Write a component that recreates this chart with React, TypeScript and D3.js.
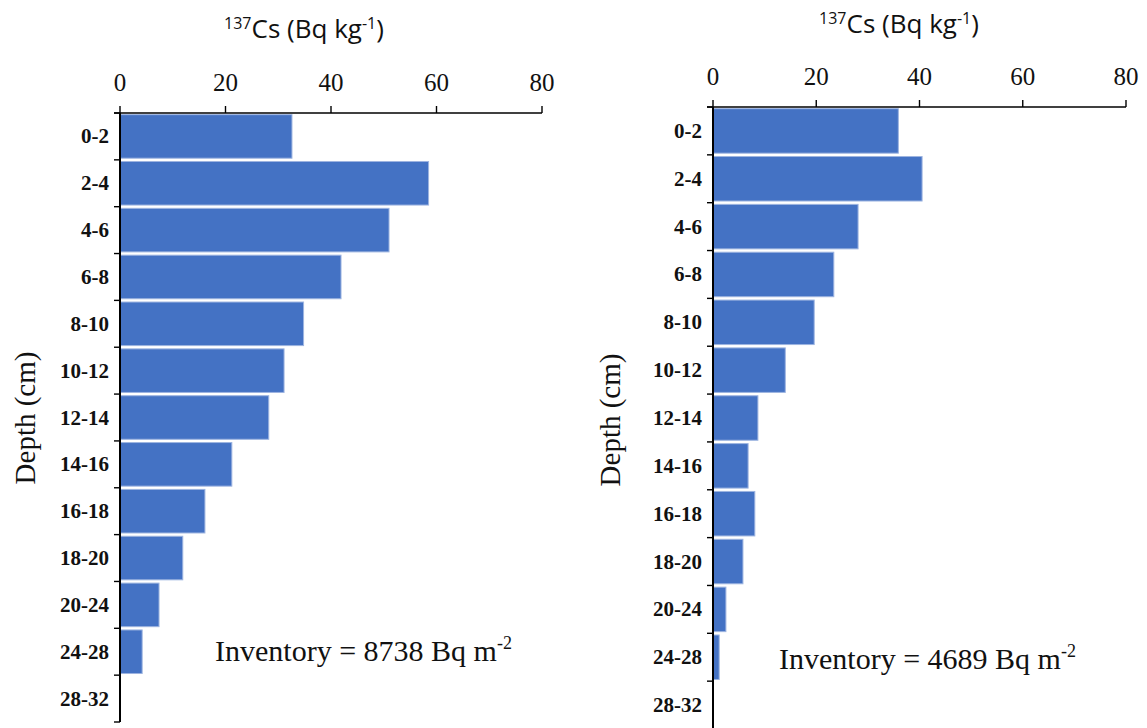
import React from "react";
import * as d3 from "d3";

// Depth intervals (cm) shared by both cores
const depths = ["0-2", "2-4", "4-6", "6-8", "8-10", "10-12", "12-14", "14-16", "16-18", "18-20", "20-24", "24-28", "28-32"];
// 137Cs activity (Bq kg-1) per depth interval
const coreA = [32.6, 58.5, 51.0, 41.9, 34.8, 31.1, 28.2, 21.2, 16.1, 11.9, 7.4, 4.2, 0];
const coreB = [35.9, 40.5, 28.1, 23.4, 19.6, 14.0, 8.7, 6.8, 8.1, 5.8, 2.5, 1.2, 0];
const xTicks = [0, 20, 40, 60, 80];
const inventories = [8738, 4689];

const W = 1147;
const H = 728;
const BAR = "#4472C4";

type PanelProps = {
  values: number[];
  x0: number; x1: number; yTop: number; yBot: number;
  titleX: number; titleY: number;
  depthX: number; depthY: number;
  invX: number; invY: number; inventory: number;
};

function Panel(p: PanelProps) {
  const x = d3.scaleLinear().domain([0, 80]).range([p.x0, p.x1]);
  const y = d3.scaleBand<string>().domain(depths).range([p.yTop, p.yBot]).paddingInner(0.07).paddingOuter(0.035);
  const bounds = d3.range(depths.length + 1).map((i) => p.yTop + i * ((p.yBot - p.yTop) / depths.length));
  return (
    <g>
      {/* title */}
      <text x={p.titleX} y={p.titleY} textAnchor="middle" fontFamily="'Open Sans', sans-serif" fontSize={26} fill="#111">
        <tspan fontSize={16} dy={-9}>137</tspan>
        <tspan dy={9}>Cs (Bq kg</tspan>
        <tspan fontSize={16} dy={-9}>-1</tspan>
        <tspan dy={9}>)</tspan>
      </text>
      {/* bars */}
      {p.values.map((v, i) =>
        v > 0 ? (
          <rect key={i} x={x(0)} y={y(depths[i])!} width={x(v) - x(0)} height={y.bandwidth()}
            fill={BAR} stroke="#9db4e0" strokeWidth={1} />
        ) : null
      )}
      {/* x axis on top */}
      <line x1={x(0) - 6} x2={x(80)} y1={p.yTop} y2={p.yTop} stroke="#000" strokeWidth={1.6} />
      {xTicks.map((t) => (
        <g key={t}>
          <line x1={x(t)} x2={x(t)} y1={p.yTop} y2={p.yTop - 7} stroke="#000" strokeWidth={1.4} />
          <text x={x(t)} y={p.yTop - 22} textAnchor="middle" fontFamily="'Liberation Serif', serif" fontSize={25} fill="#111">{t}</text>
        </g>
      ))}
      {/* y axis */}
      <line x1={x(0)} x2={x(0)} y1={p.yTop} y2={p.yBot} stroke="#000" strokeWidth={2} />
      {bounds.map((b, i) => (
        <line key={i} x1={x(0) - 6} x2={x(0)} y1={b} y2={b} stroke="#000" strokeWidth={1.4} />
      ))}
      {depths.map((d) => (
        <text key={d} x={x(0) - 11} y={y(d)! + y.bandwidth() / 2 + 7} textAnchor="end" fontFamily="'Liberation Serif', serif"
          fontWeight="bold" fontSize={21} fill="#111">{d}</text>
      ))}
      <text transform={`translate(${p.depthX},${p.depthY}) rotate(-90)`} textAnchor="middle" fontFamily="'Liberation Serif', serif" fontSize={29} fill="#111">Depth (cm)</text>
      {/* inventory label */}
      <text x={p.invX} y={p.invY} fontFamily="'Liberation Serif', serif" fontSize={30} fill="#111">
        {`Inventory = ${p.inventory} Bq m`}
        <tspan fontSize={18} dy={-12}>-2</tspan>
      </text>
    </g>
  );
}

export default function App() {
  return (
    <svg width={W} height={H} style={{ position: "absolute", left: 0, top: 0, background: "#fff" }}>
      <rect width={W} height={H} fill="#fff" />
      <Panel values={coreA} x0={120} x1={542} yTop={113} yBot={722} titleX={304} titleY={38}
        depthX={35} depthY={418} invX={215} invY={661} inventory={inventories[0]} />
      <Panel values={coreB} x0={713} x1={1126} yTop={107} yBot={729} titleX={899} titleY={33}
        depthX={620} depthY={420} invX={779} invY={669} inventory={inventories[1]} />
    </svg>
  );
}
